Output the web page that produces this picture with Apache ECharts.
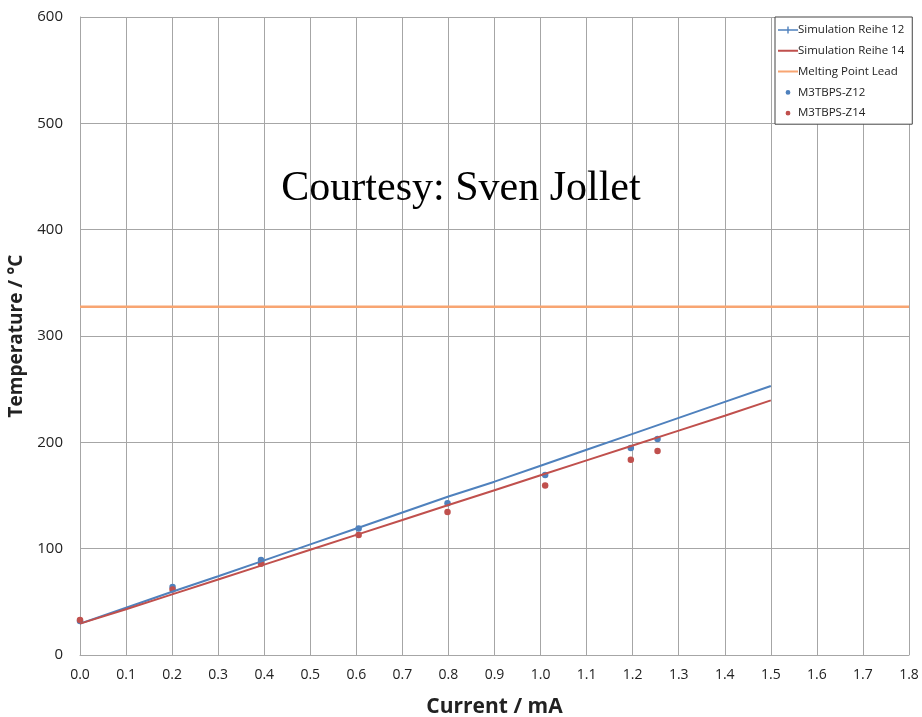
<!DOCTYPE html>
<html><head><meta charset="utf-8">
<script src="https://cdn.jsdelivr.net/npm/echarts@6/dist/echarts.min.js"></script>
<style>html,body{margin:0;padding:0;background:#fff}#c{width:922px;height:717px}</style>
</head><body><div id="c"></div>
<script>
const simX = [0,0.1,0.2,0.3,0.4,0.5,0.6,0.7,0.8,0.9,1.0,1.1,1.2,1.3,1.4,1.5];
const simReihe12 = [29.5,44.5,59.5,74,89,104,119,134,149,163,178,193,208,223,238,253];
const simReihe14 = [29.5,43,57,71,85,99,113,127,141,155,169,183,197,211,225,239.5];
const meltX = [0,1.8];
const meltingPointLead = [327.5,327.5];
const measX12 = [0,0.201,0.393,0.605,0.798,1.010,1.196,1.254];
const measZ12 = [32,63.9,89.3,118.9,142.7,169.2,194.6,203.1];
const measX14 = [0,0.201,0.393,0.605,0.798,1.010,1.196,1.254];
const measZ14 = [33,61.6,85.8,112.9,134.6,159.4,183.7,191.8];
const xTicks = {min:0,max:1.8,interval:0.1};
const yTicks = {min:0,max:600,interval:100};

const pair = (xs, ys) => xs.map((x,i)=>[x,ys[i]]);
const font = '"Open Sans","Noto Sans",sans-serif';
const lineIcon = 'path://M0,0H0.01V0.01H0ZM0,4H20V6H0ZM19.99,9.99H20V10H19.99Z';
const crossIcon = 'path://M0,0H0.01V0.01H0ZM0,4.3H20V5.7H0ZM9.3,1.5H10.7V8.5H9.3ZM19.99,9.99H20V10H19.99Z';
const dotIcon = 'path://M0,0H0.01V0.01H0ZM10,2.6A2.4,2.4,0,1,1,9.99,2.6ZM19.99,9.99H20V10H19.99Z';
const chart = echarts.init(document.getElementById('c'));
chart.setOption({
  animation:false,
  backgroundColor:'#fff',
  grid:{left:80,right:13,top:17,bottom:62,containLabel:false,outerBoundsMode:'none'},
  xAxis:{type:'value',min:xTicks.min,max:xTicks.max,interval:xTicks.interval,
    name:'Current / mA',nameLocation:'middle',nameGap:42,
    nameTextStyle:{fontFamily:font,fontSize:21,fontWeight:'bold',color:'#222'},
    axisLine:{lineStyle:{color:'#a6a6a6'}},axisTick:{show:false},
    axisLabel:{formatter:v=>v.toFixed(1),fontFamily:font,fontSize:14,color:'#222',margin:13},
    splitLine:{show:true,lineStyle:{color:'#a6a6a6',width:1}}},
  yAxis:{type:'value',min:yTicks.min,max:yTicks.max,interval:yTicks.interval,
    name:'Temperature / °C',nameLocation:'middle',nameGap:51,
    nameTextStyle:{fontFamily:font,fontSize:19,fontWeight:'bold',color:'#222'},
    axisLine:{show:true,lineStyle:{color:'#a6a6a6'}},axisTick:{show:false},
    axisLabel:{fontFamily:font,fontSize:15,color:'#222',margin:17},
    splitLine:{show:true,lineStyle:{color:'#a6a6a6',width:1}}},
  legend:{orient:'vertical',left:775,top:17,width:136,padding:[7,8,5,3],
    borderColor:'#444',borderWidth:1,backgroundColor:'#fff',
    itemWidth:20,itemHeight:10,itemGap:8.8,
    textStyle:{fontFamily:font,fontSize:11.5,color:'#222',padding:[0,0,0,-5]},
    data:[{name:'Simulation Reihe 12',icon:crossIcon},{name:'Simulation Reihe 14',icon:lineIcon},
      {name:'Melting Point Lead',icon:lineIcon},
      {name:'M3TBPS-Z12',icon:dotIcon},{name:'M3TBPS-Z14',icon:dotIcon}]},
  graphic:[{type:'text',left:'center',top:168,z:100,
    style:{text:'Courtesy: Sven Jollet',font:'42px "Liberation Serif","DejaVu Serif",serif',fill:'#000'}}],
  series:[
    {name:'Simulation Reihe 12',type:'line',data:pair(simX,simReihe12),symbol:'none',
      lineStyle:{color:'#4F81BD',width:2},itemStyle:{color:'#4F81BD'}},
    {name:'Simulation Reihe 14',type:'line',data:pair(simX,simReihe14),symbol:'none',
      lineStyle:{color:'#C0504D',width:2},itemStyle:{color:'#C0504D'}},
    {name:'Melting Point Lead',type:'line',data:pair(meltX,meltingPointLead),symbol:'none',
      lineStyle:{color:'#F8A572',width:2.5},itemStyle:{color:'#F8A572'}},
    {name:'M3TBPS-Z12',type:'scatter',data:pair(measX12,measZ12),symbol:'circle',symbolSize:6.5,
      itemStyle:{color:'#4F81BD',opacity:1}},
    {name:'M3TBPS-Z14',type:'scatter',data:pair(measX14,measZ14),symbol:'circle',symbolSize:6.5,
      itemStyle:{color:'#C0504D',opacity:1}}
  ]
});
</script></body></html>
